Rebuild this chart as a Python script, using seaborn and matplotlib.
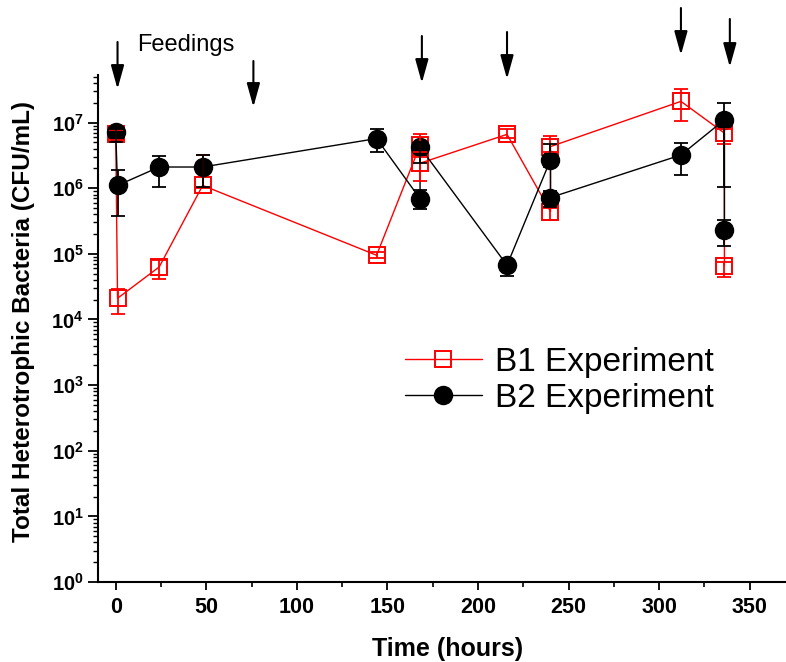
import matplotlib
matplotlib.use("Agg")
import matplotlib.pyplot as plt
import numpy as np
import pandas as pd
import seaborn as sns
from matplotlib.ticker import LogLocator, FuncFormatter, MultipleLocator, NullFormatter

sns.set_style("ticks")
plt.rcParams["font.family"] = ["Liberation Sans", "DejaVu Sans"]
plt.rcParams["mathtext.fontset"] = "custom"
plt.rcParams["mathtext.rm"] = "Liberation Sans"
plt.rcParams["mathtext.bf"] = "Liberation Sans:bold"
for key in ["text.color", "axes.labelcolor", "xtick.color", "ytick.color", "axes.edgecolor"]:
    plt.rcParams[key] = "black"

# B1 experiment (hours, CFU/mL, lower and upper error limits)
hours_b1 = [0, 1, 24, 48, 144, 168, 168, 216, 240, 240, 312, 336, 336]
cfu_b1 = [6.8e6, 2.1e4, 6.3e4, 1.1e6, 9.5e4, 4.5e6, 2.4e6, 6.6e6, 4.4e5, 4.3e6, 2.1e7, 6.9e6, 6.6e4]
low_b1 = [5.5e6, 1.2e4, 4.2e4, 1.0e6, 8.5e4, 3.5e6, 1.3e6, 5.8e6, 3.3e5, 3.5e6, 1.07e7, 4.7e6, 4.4e4]
high_b1 = [7.8e6, 2.9e4, 8.1e4, 3.2e6, 1.05e5, 6.6e6, 3.0e6, 8.1e6, 5.0e5, 6.2e6, 3.2e7, 8.0e6, 7.5e4]

# B2 experiment
hours_b2 = [0, 1, 24, 48, 144, 168, 168, 216, 240, 240, 312, 336, 336]
cfu_b2 = [7.2e6, 1.1e6, 2.1e6, 2.1e6, 5.7e6, 6.9e5, 4.2e6, 6.7e4, 2.7e6, 7.2e5, 3.2e6, 1.1e7, 2.3e5]
low_b2 = [5.1e6, 3.8e5, 1.05e6, 1.05e6, 3.5e6, 4.8e5, 2.4e6, 4.6e4, 2.1e6, 5.2e5, 1.6e6, 1.05e6, 1.3e5]
high_b2 = [8.0e6, 1.86e6, 3.1e6, 3.2e6, 7.9e6, 9.5e5, 5.0e6, 7.5e4, 4.7e6, 9.0e5, 4.8e6, 2.0e7, 3.3e5]

# feeding times (hours)
feed_hours = [1, 76, 169, 216, 312, 339]
# arrow extents in figure pixels from the top (tail, tip)
feed_tail_px = [42, 61, 36, 32, 8, 19]
feed_tip_px = [89, 107, 83, 79, 55, 67]

W, H = 786, 662
fig = plt.figure(figsize=(W / 100, H / 100), dpi=100)
ax = fig.add_axes([97.6 / W, (H - 582) / H, (W - 97.6) / W, (582 - 75) / H])
ax.set_yscale("log")

sns.lineplot(x=hours_b1, y=cfu_b1, sort=False, estimator=None, ax=ax,
             color="#ff0000", linewidth=1.0, marker="s", markersize=11,
             markerfacecolor="none", markeredgecolor="#ff0000",
             markeredgewidth=1.4, label="B1 Experiment", zorder=3)
sns.lineplot(x=hours_b2, y=cfu_b2, sort=False, estimator=None, ax=ax,
             color="black", linewidth=1.0, marker="o", markersize=13,
             markerfacecolor="black", markeredgecolor="black",
             markeredgewidth=1.0, label="B2 Experiment", zorder=4)

for t, v, lo, hi, c in [(hours_b1, cfu_b1, low_b1, high_b1, "#ff0000"),
                        (hours_b2, cfu_b2, low_b2, high_b2, "black")]:
    v = np.array(v)
    yerr = [v - np.array(lo), np.array(hi) - v]
    ax.errorbar(t, v, yerr=yerr, fmt="none", ecolor=c, elinewidth=1.3,
                capsize=5, capthick=1.3, zorder=5)

ax.set_xlim(-10, 370)
ax.set_ylim(1, 10 ** 7.724)

ax.xaxis.set_major_locator(MultipleLocator(50))
ax.xaxis.set_minor_locator(MultipleLocator(25))
ax.yaxis.set_major_locator(LogLocator(base=10, numticks=20))
ax.yaxis.set_minor_locator(LogLocator(base=10, subs=np.arange(2, 10), numticks=20))
ax.yaxis.set_minor_formatter(NullFormatter())
ax.yaxis.set_major_formatter(FuncFormatter(lambda v, p: r"$\mathbf{10^{%d}}$" % round(np.log10(v))))

for s in ["top", "right"]:
    ax.spines[s].set_visible(False)
for s in ["left", "bottom"]:
    ax.spines[s].set_linewidth(1.5)
    ax.spines[s].set_color("black")

ax.tick_params(axis="x", which="major", length=6, width=1.3, direction="out", pad=5,
               labelsize=15.5, color="black")
ax.tick_params(axis="x", which="minor", length=3.5, width=1.2, direction="out", color="black")
ax.tick_params(axis="y", which="major", length=7, width=1.3, direction="out", pad=3,
               labelsize=14.5, color="black")
ax.tick_params(axis="y", which="minor", length=3.5, width=1.0, direction="out", color="black")
for lab in ax.get_xticklabels():
    lab.set_fontweight("bold")

ax.set_xlabel("Time (hours)", fontsize=18, fontweight="bold")
ax.set_ylabel("Total Heterotrophic Bacteria (CFU/mL)", fontsize=17.5, fontweight="bold")
ax.xaxis.set_label_coords((448 - 97.6) / (W - 97.6), (582 - 649) / (582 - 75))
ax.yaxis.set_label_coords((24 - 97.6) / (W - 97.6), (582 - 322) / (582 - 75))
ax.xaxis.label.set_va("center")
ax.yaxis.label.set_va("center")

for t, tail, tip in zip(feed_hours, feed_tail_px, feed_tip_px):
    ax.annotate("", xy=(t, 1 - tip / H), xytext=(t, 1 - tail / H),
                xycoords=("data", "figure fraction"),
                textcoords=("data", "figure fraction"),
                annotation_clip=False,
                arrowprops=dict(arrowstyle="-|>,head_length=0.9,head_width=0.25",
                                color="black", lw=1.5, shrinkA=0, shrinkB=0,
                                mutation_scale=16))
fig.text(137 / W, 1 - 51 / H, "Feedings", fontsize=17, va="baseline", ha="left")

leg = ax.legend(loc="center left", bbox_to_anchor=(405 / W, 1 - 380 / H),
                bbox_transform=fig.transFigure, frameon=False, fontsize=24,
                handlelength=2.3, handletextpad=0.4, labelspacing=0.15,
                borderpad=0, borderaxespad=0)

fig.savefig("out.png", dpi=100)
